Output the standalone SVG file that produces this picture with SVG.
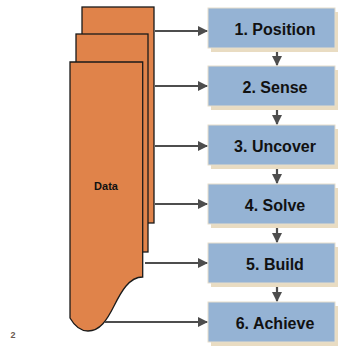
<svg xmlns="http://www.w3.org/2000/svg" width="340" height="347" viewBox="0 0 340 347">
  <style>
    .page { fill: #E0834A; stroke: #1a1a1a; stroke-width: 1.3; }
    .box { fill: #95B3D4; stroke: #E6DDCB; stroke-width: 1; }
    .shadow { fill: #E9DCC2; }
    .label { font-family: "Liberation Sans", Arial, sans-serif; font-weight: bold; font-size: 16px; fill: #111; text-anchor: middle; }
    .conn { stroke: #4d4d4d; stroke-width: 2.2; fill: none; }
  </style>
  <defs>
    <marker id="arrow" viewBox="0 0 10 10" refX="9" refY="5" markerWidth="4.6" markerHeight="4.6" orient="auto" markerUnits="strokeWidth">
      <path d="M0,0 L10,5 L0,10 Z" fill="#4d4d4d"/>
    </marker>
    <g id="stepbox">
      <rect class="shadow" x="3" y="4" width="127" height="40"/>
      <rect class="box" x="0" y="0" width="127" height="40"/>
    </g>
  </defs>
  <rect width="340" height="347" fill="#ffffff"/>

  <!-- stacked data pages -->
  <g id="data">
    <rect class="page" x="82" y="7" width="72" height="216"/>
    <rect class="page" x="76" y="34" width="72" height="218"/>
    <path class="page" d="M70,62 H142.7 V277 C129,277 121,292 114,306 C107,320 100,331 88,331 C80,331 74,325 70,318 Z"/>
    <text x="106" y="190" class="label" style="font-size:11px">Data</text>
  </g>

  <!-- process steps -->
  <g id="step1"><use href="#stepbox" x="208" y="8"/><text class="label" x="275" y="35">1. Position</text></g>
  <g id="step2"><use href="#stepbox" x="208" y="66"/><text class="label" x="275" y="93">2. Sense</text></g>
  <g id="step3"><use href="#stepbox" x="208" y="125"/><text class="label" x="275" y="152">3. Uncover</text></g>
  <g id="step4"><use href="#stepbox" x="208" y="184"/><text class="label" x="275" y="211">4. Solve</text></g>
  <g id="step5"><use href="#stepbox" x="208" y="243"/><text class="label" x="275" y="270">5. Build</text></g>
  <g id="step6"><use href="#stepbox" x="208" y="302"/><text class="label" x="275" y="329">6. Achieve</text></g>

  <g id="connectors">
    <line class="conn" x1="155" y1="31" x2="207" y2="31" marker-end="url(#arrow)"/>
    <line class="conn" x1="155" y1="86" x2="207" y2="86" marker-end="url(#arrow)"/>
    <line class="conn" x1="155" y1="146" x2="207" y2="146" marker-end="url(#arrow)"/>
    <line class="conn" x1="155" y1="204" x2="207" y2="204" marker-end="url(#arrow)"/>
    <line class="conn" x1="145" y1="263" x2="207" y2="263" marker-end="url(#arrow)"/>
    <line class="conn" x1="105" y1="322" x2="207" y2="322" marker-end="url(#arrow)"/>

    <line class="conn" x1="277" y1="52" x2="277" y2="65" marker-end="url(#arrow)"/>
    <line class="conn" x1="277" y1="110" x2="277" y2="124" marker-end="url(#arrow)"/>
    <line class="conn" x1="277" y1="169" x2="277" y2="183" marker-end="url(#arrow)"/>
    <line class="conn" x1="277" y1="228" x2="277" y2="242" marker-end="url(#arrow)"/>
    <line class="conn" x1="277" y1="287" x2="277" y2="301" marker-end="url(#arrow)"/>
  </g>

  <text x="13" y="338" style="font-family:'Liberation Sans',Arial,sans-serif;font-weight:bold;font-size:9px;fill:#6B5A50" text-anchor="middle">2</text>
</svg>
